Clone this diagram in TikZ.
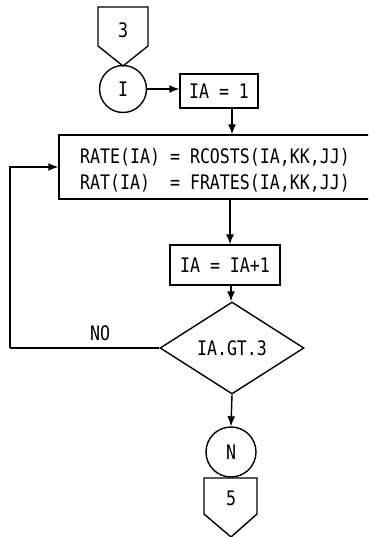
\documentclass[tikz,border=0pt]{standalone}
\usepackage{fontspec}
\newfontfamily\monof[FakeStretch=0.83]{DejaVu Sans Mono}
\usetikzlibrary{shapes.geometric,arrows.meta}
\begin{document}
\begin{tikzpicture}[x=1pt,y=-1pt,
  every node/.style={font=\monof\fontsize{20}{26}\selectfont},
  ln/.style={line width=1.4pt},
  arr/.style={ln,-{Latex[length=10pt,width=8pt]}},
  procbox/.style={draw,ln,rectangle,inner sep=0pt},
  conn/.style={draw,ln,circle,inner sep=0pt},
  decis/.style={draw,ln,diamond,inner sep=0pt,minimum width=144pt,minimum height=92pt}]
\clip (0,0) rectangle (368,537);
% top off-page connector
\draw[ln] (98,7) -- (148,7) -- (148,46) -- (123,66) -- (98,46) -- cycle;
\node (p3) at (123,30) {3};
\node[conn,minimum size=47pt] (I) at (123,89) {I};
\node[procbox,minimum width=78pt,minimum height=34pt] (ia1) at (219,91) {IA = 1};
\node[procbox,minimum width=316pt,minimum height=64pt] (big) at (217,167) {};
\node[align=left] (txt) at (215,170) {RATE(IA) = RCOSTS(IA,KK,JJ)\\RAT(IA)~~= FRATES(IA,KK,JJ)};
\node[procbox,minimum width=110pt,minimum height=40pt] (inc) at (225,265) {IA = IA+1};
\node[decis] (dia) at (232,348) {IA.GT.3};
\node (no) at (100,333) {NO};
\node[conn,minimum size=50pt] (N) at (231,452) {N};
% bottom off-page connector
\draw[ln] (204,478) -- (257,478) -- (257,514) -- (231,537) -- (204,514) -- cycle;
\node (p5) at (231,498) {5};
\coordinate (lpb) at (10,348);
% connectors
\draw[arr] (I.east) -- (I.east -| ia1.west);
\draw[arr] ([xshift=13]ia1.south) -- ([xshift=13]ia1.south |- big.north);
\draw[arr] ([xshift=13]big.south) -- ([xshift=13]big.south |- inc.north);
\draw[arr] ([xshift=6]inc.south) -- ([xshift=6]inc.south |- dia.north);
\draw[ln] (dia.west) -- (lpb);
\draw[arr] (lpb) |- (big.west);
\draw[arr] (dia.south) -- (N.north);
\end{tikzpicture}
\end{document}
